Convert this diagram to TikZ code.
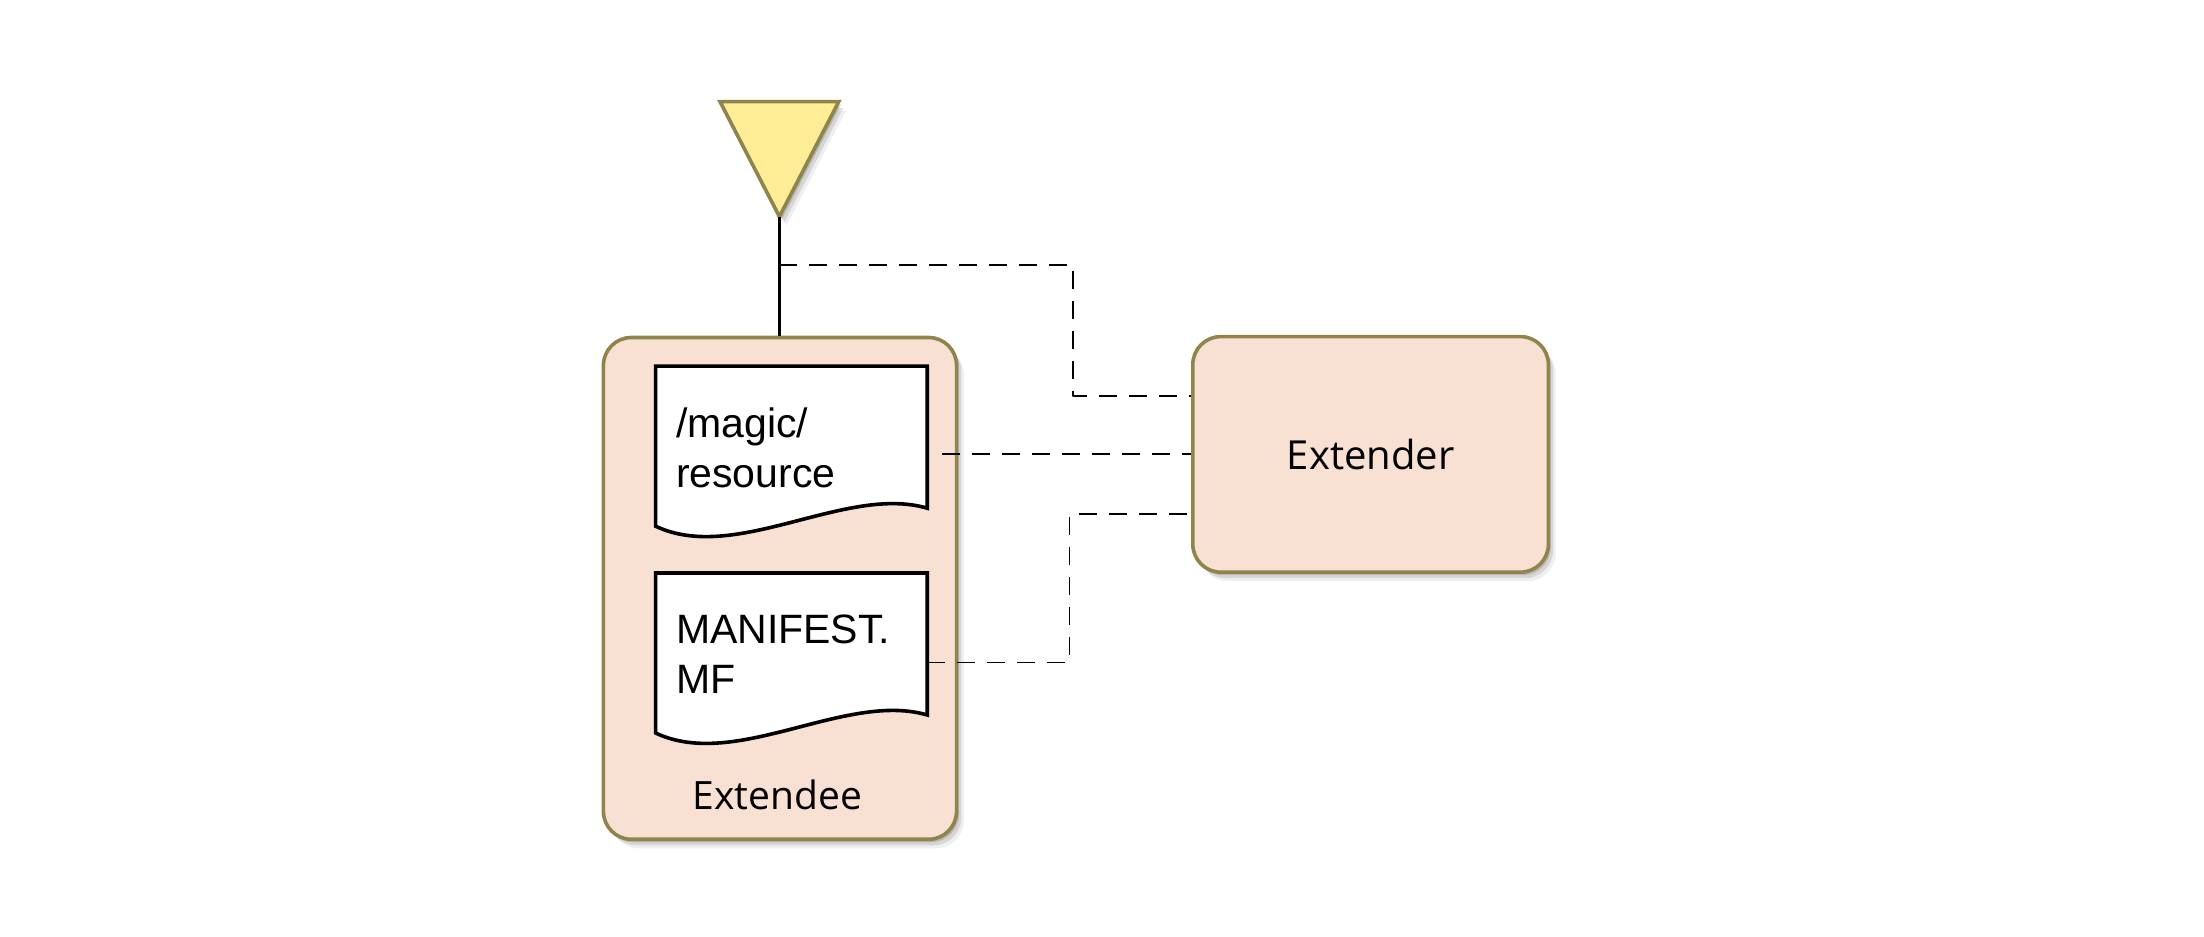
\documentclass[tikz,border=0pt]{standalone}
\usepackage{fontspec}
\setmainfont{Open Sans}
\newfontfamily\docfont{Liberation Sans}
\usetikzlibrary{calc}
\usetikzlibrary{shadows}

\definecolor{bundlefill}{RGB}{248,224,210}
\definecolor{bundleline}{RGB}{143,133,74}
\definecolor{portfill}{RGB}{255,238,150}

\tikzset{
  soft shadow/.style={
    drop shadow={shadow xshift=1.2bp,shadow yshift=-1.5bp,opacity=0.22,fill=black!70},
    drop shadow={shadow xshift=2.4bp,shadow yshift=-3bp,opacity=0.15,fill=black!70},
    drop shadow={shadow xshift=3.6bp,shadow yshift=-4.5bp,opacity=0.09,fill=black!70}},
  bundle/.style={draw=bundleline,fill=bundlefill,line width=1.8bp,rounded corners=14bp,rectangle,inner sep=0pt,soft shadow},
  port/.style={draw=bundleline,fill=portfill,line width=1.8bp,line join=miter,soft shadow},
  docbox/.style={rectangle,inner sep=0pt,minimum width=135.4bp,minimum height=79.6bp},
  docline/.style={draw=black,fill=white,line width=1.8bp,line join=miter},
  doctext/.style={anchor=north west,inner sep=0pt,align=left,font=\docfont\fontsize{20.5bp}{25bp}\selectfont},
  link/.style={dash pattern=on 9bp off 6bp,line width=0.9bp},
}

% page outline with a wavy bottom, drawn round a docbox node
\newcommand{\docpath}[1]{%
  \draw[docline] (#1.north west) -- (#1.north east) -- ($(#1.south east)+(0,9bp)$)
    .. controls ($(#1.south west)+(95bp,21bp)$) and ($(#1.south west)+(40bp,-19bp)$) .. (#1.south west) -- cycle;}

\begin{document}
\begin{tikzpicture}[line join=bevel]
\useasboundingbox (0bp,0bp) rectangle (1102bp,468.5bp);
%%
  \node (extendee) at (390.0bp,174.3bp) [bundle,minimum width=176.6bp,minimum height=250.9bp] {};
  \node (extendeelabel) at (388.6bp,63.5bp) [anchor=base,font=\fontsize{19.5bp}{23bp}\selectfont] {Extendee};
  \node (extender) at (685.3bp,241.3bp) [bundle,minimum width=177.8bp,minimum height=117.8bp,font=\fontsize{20bp}{24bp}\selectfont] {Extender};
%%
  \node (res) at (395.7bp,245.4bp) [docbox] {};
  \docpath{res}
  \node (restext) at ([xshift=10bp,yshift=-20.5bp]res.north west) [doctext] {/magic/\\resource};
  \node (mf) at (395.7bp,142.0bp) [docbox] {};
  \docpath{mf}
  \node (mftext) at ([xshift=10bp,yshift=-20.5bp]mf.north west) [doctext] {MANIFEST.\\MF};
%%
  \coordinate (apex) at (389.7bp,360.2bp);
  \draw[port] (360.0bp,417.7bp) -- (419.4bp,417.7bp) -- (apex) -- cycle;
  \draw[line width=1.8bp] (apex) -- (apex |- extendee.north);
  \coordinate (tap) at (389.7bp,336.0bp);
  \coordinate (resout) at ([xshift=7.6bp]res.east |- extender.west);
%
  \draw[link] (tap) -- ++(146.8bp,0) |- ([yshift=29.3bp]extender.west);
  \draw[link] (resout) -- (extender.west);
  \draw[link] ([yshift=-4.8bp]mf.east) -- ++(71.1bp,0) |- ([yshift=-29.8bp]extender.west);
%
\end{tikzpicture}
\end{document}
